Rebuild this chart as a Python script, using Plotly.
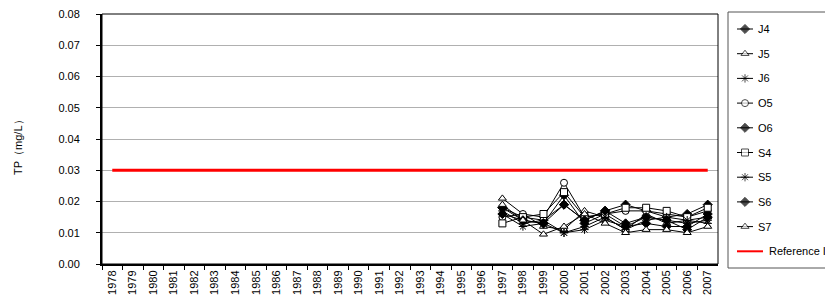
import plotly.graph_objects as go

years = [str(y) for y in range(1978, 2008)]
data_years = [str(y) for y in range(1997, 2008)]

J4 = [0.018, 0.015, 0.014, 0.019, 0.014, 0.017, 0.019, 0.017, 0.015, 0.016, 0.019]
J5 = [0.021, 0.016, 0.012, 0.011, 0.017, 0.015, 0.011, 0.016, 0.013, 0.014, 0.015]
J6 = [0.017, 0.013, 0.014, 0.010, 0.011, 0.014, 0.012, 0.015, 0.014, 0.013, 0.014]
O5 = [0.015, 0.016, 0.015, 0.026, 0.015, 0.016, 0.017, 0.017, 0.016, 0.015, 0.017]
O6 = [0.016, 0.014, 0.013, 0.022, 0.013, 0.016, 0.012, 0.013, 0.012, 0.012, 0.016]
S4 = [0.013, 0.015, 0.016, 0.023, 0.015, 0.016, 0.018, 0.018, 0.017, 0.015, 0.018]
S5 = [0.016, 0.012, 0.013, 0.010, 0.012, 0.015, 0.011, 0.014, 0.015, 0.014, 0.013]
S6 = [0.018, 0.014, 0.013, 0.019, 0.014, 0.017, 0.013, 0.015, 0.014, 0.011, 0.015]
S7 = [0.019, 0.014, 0.0095, 0.012, 0.016, 0.013, 0.010, 0.011, 0.011, 0.010, 0.012]
reference = [0.03] * len(years)
ref_name = "Reference II"

series = [
    ("J4", J4, "diamond", "black"),
    ("J5", J5, "triangle-up", "white"),
    ("J6", J6, "asterisk-open", "black"),
    ("O5", O5, "circle", "white"),
    ("O6", O6, "diamond", "black"),
    ("S4", S4, "square", "white"),
    ("S5", S5, "asterisk-open", "black"),
    ("S6", S6, "diamond", "black"),
    ("S7", S7, "triangle-up", "white"),
]

W, H = 833, 305
OFF = 8  # page body margin offset
PL, PR, PT, PB = 102 - OFF, 718 - OFF, 14 - OFF, 264 - OFF  # plot area in figure pixels

fig = go.Figure()
for name, vals, sym, fill in series:
    fig.add_trace(go.Scatter(
        x=data_years, y=vals, name=name, mode="lines+markers",
        line=dict(color="black", width=1),
        marker=dict(symbol=sym, size=7, color=fill,
                    line=dict(color="black", width=1)),
        showlegend=False, xaxis="x", yaxis="y",
    ))
fig.add_trace(go.Scatter(
    x=years, y=reference, name=ref_name, mode="lines",
    line=dict(color="#ff0000", width=3), showlegend=False,
))

# ---- hand-drawn legend on a pixel-space overlay axis ----
LX0, LY0, LY1 = 728 - OFF, 12 - OFF, 268 - OFF
row0, rowstep = 29 - OFF, 24.7
mx0, mx1 = 737 - OFF, 753 - OFF
shapes = [dict(type="rect", xref="x2", yref="y2", x0=LX0, x1=W + 10, y0=LY0, y1=LY1,
               line=dict(color="#555", width=1), fillcolor="white", layer="below")]
annotations = []
for k, (name, vals, sym, fill) in enumerate(series):
    yy = row0 + k * rowstep
    fig.add_trace(go.Scatter(
        x=[mx0, (mx0 + mx1) / 2, mx1], y=[yy, yy, yy], mode="lines+markers",
        line=dict(color="black", width=1),
        marker=dict(symbol=sym, size=[0, 7, 0], color=fill,
                    line=dict(color="black", width=1)),
        showlegend=False, hoverinfo="skip", xaxis="x2", yaxis="y2", cliponaxis=False,
    ))
    annotations.append(dict(x=mx1 + 3, y=yy, xref="x2", yref="y2", text=name,
                            showarrow=False, xanchor="left", yanchor="middle",
                            font=dict(size=11)))
yy = row0 + len(series) * rowstep
fig.add_trace(go.Scatter(
    x=[mx0, mx0 + 26], y=[yy, yy], mode="lines", line=dict(color="#ff0000", width=2),
    showlegend=False, hoverinfo="skip", xaxis="x2", yaxis="y2",
))
annotations.append(dict(x=mx0 + 30, y=yy, xref="x2", yref="y2", text=ref_name,
                        showarrow=False, xanchor="left", yanchor="middle",
                        font=dict(size=11)))

# y-axis title
annotations.append(dict(x=(18 - OFF) / W, y=1 - ((PT + PB) / 2 + 6) / H, xref="paper", yref="paper",
                        text="TP（mg/L）", textangle=-90, showarrow=False,
                        xanchor="center", yanchor="middle", font=dict(size=11)))

font = dict(family="Liberation Sans, Arial, sans-serif", size=11, color="black")
fig.update_layout(
    width=W, height=H,
    margin=dict(l=0, r=0, t=0, b=0),
    paper_bgcolor="white", plot_bgcolor="rgba(0,0,0,0)",
    font=font, showlegend=False,
    xaxis=dict(domain=[PL / W, PR / W], anchor="y",
               type="category", categoryorder="array", categoryarray=years,
               range=[-0.5, 29.5], tickangle=-90, tickson="boundaries",
               ticks="outside", ticklen=4, tickcolor="black",
               showline=True, linecolor="black", linewidth=2,
               showgrid=False, tickfont=font, automargin=False,
               ticklabeloverflow="allow"),
    yaxis=dict(domain=[1 - PB / H, 1 - PT / H], anchor="x",
               range=[0, 0.08], dtick=0.01, tickformat=".2f",
               ticks="outside", ticklen=4, tickcolor="black",
               showline=True, linecolor="black", linewidth=2,
               showgrid=True, gridcolor="#b0b0b0", gridwidth=1,
               zeroline=False, tickfont=font, ticklabelstandoff=14, automargin=False,
               ticklabeloverflow="allow"),
    xaxis2=dict(domain=[0, 1], anchor="y2", range=[0, W], visible=False, fixedrange=True),
    yaxis2=dict(domain=[0, 1], anchor="x2", range=[H, 0], visible=False, fixedrange=True),
    shapes=shapes + [dict(type="rect", xref="x domain", yref="y domain", x0=0, y0=0, x1=1, y1=1,
                          line=dict(color="black", width=1), layer="above")],
    annotations=annotations,
)
fig.write_html("out.html")
